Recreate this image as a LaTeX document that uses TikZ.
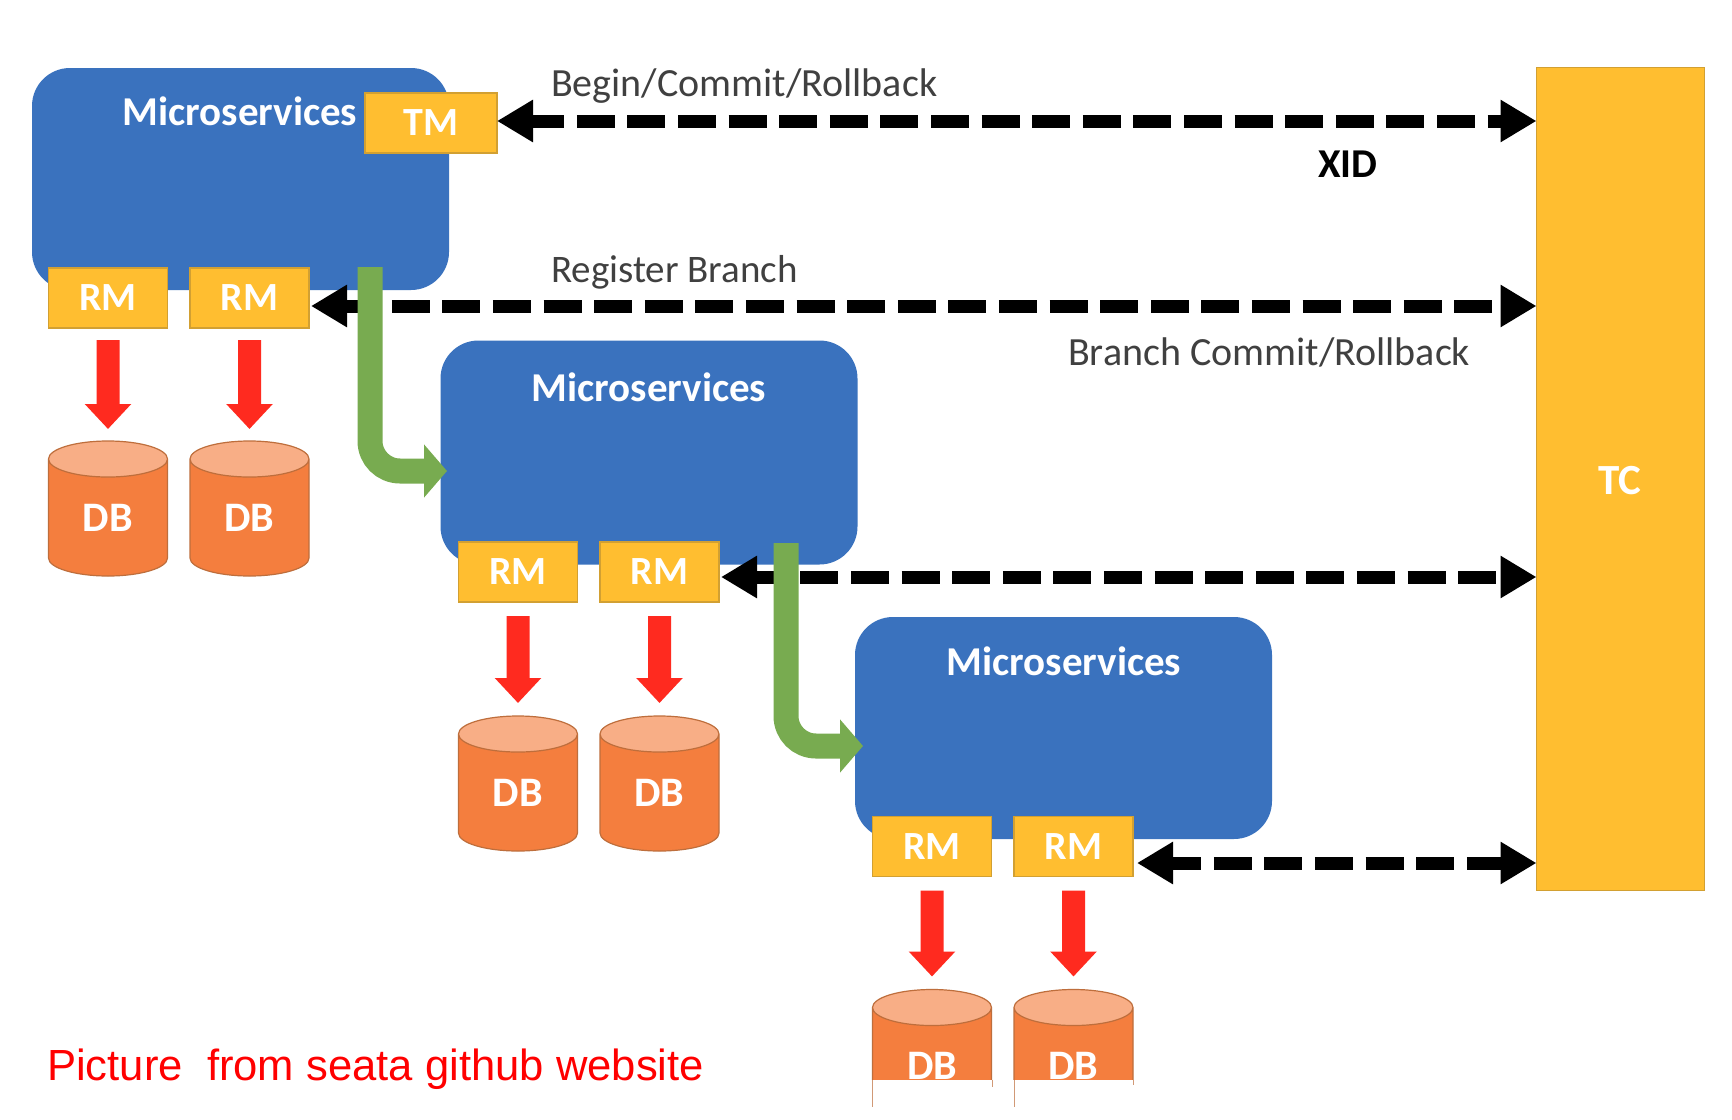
\documentclass[tikz,border=0pt]{standalone}
\usepackage{fontspec}
\setmainfont{Carlito}
\newfontfamily\redfont{Liberation Sans}
\usetikzlibrary{arrows.meta,shapes.geometric}
\definecolor{msblue}{HTML}{3A72BE}
\definecolor{tcyellow}{HTML}{FFBE30}
\definecolor{tcedge}{HTML}{D2A032}
\definecolor{dbbody}{HTML}{F47E3E}
\definecolor{dbtop}{HTML}{F8AE86}
\definecolor{dbedge}{HTML}{BE6E3C}
\definecolor{redarrow}{HTML}{FF2A1F}
\definecolor{greenarrow}{HTML}{78AB50}
\definecolor{graytext}{HTML}{404040}
\tikzset{
  msbox/.style={rectangle,rounded corners=38pt,fill=msblue,minimum width=417pt,minimum height=222pt,inner sep=0pt,outer sep=0pt},
  mstext/.style={text=white,font=\fontsize{41}{41}\selectfont\bfseries,inner sep=0pt},
  ybox/.style={rectangle,fill=tcyellow,draw=tcedge,line width=1.2pt,text=white,font=\fontsize{40}{40}\selectfont\bfseries,inner sep=0pt,outer sep=0pt},
  rmbox/.style={ybox,minimum width=119pt,minimum height=60pt},
  tmbox/.style={ybox,minimum width=132pt,minimum height=60pt},
  dbnode/.style={cylinder,shape border rotate=90,aspect=0.72,cylinder uses custom fill,cylinder body fill=dbbody,cylinder end fill=dbtop,draw=dbedge,line width=1.2pt,minimum width=119pt,minimum height=135pt,inner sep=0pt,outer sep=0pt,text=white,font=\fontsize{42}{42}\selectfont\bfseries,anchor=shape center},
  grayl/.style={text=graytext,font=\fontsize{40}{40}\selectfont,inner sep=0pt},
  dblarrow/.style={line width=13pt,draw=black,{Triangle[length=36pt,width=40pt]}-{Triangle[length=36pt,width=40pt]}},
  redarr/.style={line width=23pt,draw=redarrow,-{Triangle[length=25pt,width=45pt]},shorten <=12pt,shorten >=12pt},
  redarrb/.style={redarr,shorten <=14pt,shorten >=13pt},
  greenarr/.style={line width=25pt,draw=greenarrow,rounded corners=30pt,-{Triangle[length=23pt,width=52pt]}},
  cut/.style={fill=white,draw=none},
  stray/.style={draw=dbedge!70,line width=1pt}
}
\begin{document}
\begin{tikzpicture}[x=1pt,y=-1pt]
\useasboundingbox (0,0) rectangle (1732,1119);
\fill[white] (0,0) rectangle (1732,1119);

% Microservice boxes
\node[msbox] (ms1) at (240.5,179) {};
\node[msbox,minimum height=224pt] (ms2) at (649,452.5) {};
\node[msbox] (ms3) at (1063.5,728) {};
\node[mstext] (ms1t) at (240,111) {Microservices};
\node[mstext] (ms2t) at (649,387) {Microservices};
\node[mstext] (ms3t) at (1064,661) {Microservices};

% TC
\node[ybox,minimum width=168pt,minimum height=823pt] (tc) at (1620.5,479) {};
\node[text=white,font=\fontsize{43}{43}\selectfont\bfseries,inner sep=0pt] (tct) at (1620,481) {TC};

% TM and RMs
\node[tmbox] (tm) at (431,123) {TM};
\node[rmbox] (r11) at (108,298) {RM};
\node[rmbox] (r12) at (249.5,298) {RM};
\node[rmbox] (r21) at (518,572) {RM};
\node[rmbox] (r22) at (659.5,572) {RM};
\node[rmbox] (r31) at (932,846.5) {RM};
\node[rmbox] (r32) at (1073.5,846.5) {RM};

% DBs
\node[dbnode] (d11) at (108,508.5) {DB};
\node[dbnode] (d12) at (249.5,508.5) {DB};
\node[dbnode] (d21) at (518,783.5) {DB};
\node[dbnode] (d22) at (659.5,783.5) {DB};
\node[dbnode] (d31) at (932,1057) {DB};
\node[dbnode] (d32) at (1073.5,1057) {DB};

% cut-off lower edge of the last row
\fill[cut] (865,1080) rectangle (1145,1125);
\draw[stray] (872.5,1080) -- (872.5,1107);
\draw[stray] (1014,1080) -- (1014,1107);
\draw[stray] (992,1080) -- (992,1087);
\draw[stray] (1133,1080) -- (1133,1085);

% Red arrows
\draw[redarr] (r11) -- (d11);
\draw[redarr] (r12) -- (d12);
\draw[redarrb] (r21) -- (d21);
\draw[redarrb] (r22) -- (d22);
\draw[redarrb] (r31) -- (d31);
\draw[redarrb] (r32) -- (d32);

% Dashed double arrows
\coordinate (a1l) at (497,121);
\coordinate (a1r) at (tc.west |- a1l);
\coordinate (a2l) at (311,306);
\coordinate (a2r) at (tc.west |- a2l);
\coordinate (a3l) at (721,577);
\coordinate (a3r) at (tc.west |- a3l);
\coordinate (a4l) at (1137,863);
\coordinate (a4r) at (tc.west |- a4l);
\draw[dblarrow,dash pattern=on 38pt off 12.6pt,dash phase=4.5pt] (a1l) -- (a1r);
\draw[dblarrow,dash pattern=on 38pt off 12.6pt,dash phase=3.6pt] (a2l) -- (a2r);
\draw[dblarrow,dash pattern=on 38pt off 12.6pt,dash phase=5pt] (a3l) -- (a3r);
\draw[dblarrow,dash pattern=on 38pt off 12.6pt,dash phase=7.6pt] (a4l) -- (a4r);

% Green arrows
\coordinate (g1s) at (370,267);
\coordinate (g1e) at (447,471);
\coordinate (g2s) at (786,543);
\coordinate (g2e) at (863,746);
\draw[greenarr] (g1s) |- (g1e);
\draw[greenarr] (g2s) |- (g2e);

% Labels
\node[grayl,anchor=west] (lbl1) at (551,86) {Begin/Commit/Rollback};
\node[text=black,font=\fontsize{41}{41}\selectfont\bfseries,inner sep=0pt] (lbl2) at (1348,164) {XID};
\node[grayl,font=\fontsize{39}{39}\selectfont,anchor=west] (lbl3) at (551,272) {Register Branch};
\node[grayl,anchor=west] (lbl4) at (1068,352) {Branch Commit/Rollback};
\node[text=red,font=\redfont\fontsize{43.6}{43.6}\selectfont,inner sep=0pt,anchor=west] (lbl5) at (47,1069) {Picture\ \ from seata github website};
\end{tikzpicture}
\end{document}
